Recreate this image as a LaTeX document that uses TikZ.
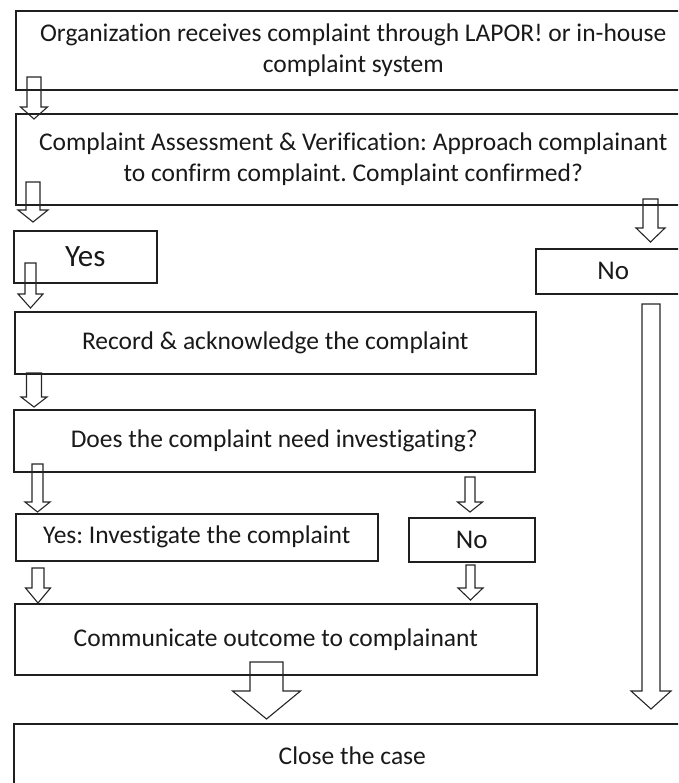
\documentclass[tikz,border=0pt]{standalone}
\usepackage{fontspec}
\setmainfont{Carlito}[Ligatures={NoCommon,NoContextual}]

% Hollow block arrow: centre x, shaft top, shoulder y, tip y, half shaft width, half head width
\newcommand\flowarrow[6]{%
  \draw[flow] (#1-#5,#2) -- (#1+#5,#2) -- (#1+#5,#3) -- (#1+#6,#3) -- (#1,#4)
    -- (#1-#6,#3) -- (#1-#5,#3) -- cycle;}

\begin{document}
\frenchspacing
\begin{tikzpicture}[x=1pt,y=-1pt,
  box/.style={draw=black!88, line width=1.6pt, anchor=north west, inner sep=0pt,
    align=center, font=\fontsize{25.5}{31}\selectfont, text=black!90},
  answer/.style={box, font=\fontsize{27}{31}\selectfont},
  flow/.style={draw=black!85, line width=1.1pt, line join=miter}]
\useasboundingbox (0,0) rectangle (678,783);
\clip (0,0) rectangle (678,783);

% process steps
\node[box, minimum width=675pt, minimum height=79pt] (receive) at (15,10)
  {Organization receives complaint through LAPOR! or in-house\\complaint system};
\node[box, minimum width=675pt, minimum height=91pt] (assess) at (15,113)
  {Complaint Assessment \& Verification: Approach complainant\\to confirm complaint. Complaint confirmed?};
\node[answer, minimum width=143pt, minimum height=52pt, font=\fontsize{31}{35}\selectfont] (yes1) at (13,230) {Yes};
\node[answer, minimum width=155pt, minimum height=45pt] (no1) at (535,248) {No};
\node[box, minimum width=521pt, minimum height=62pt] (record) at (14,311)
  {Record \& acknowledge the complaint};
\node[box, minimum width=521pt, minimum height=62pt] (needinv) at (13,409)
  {Does the complaint need investigating?};
\node[box, minimum width=362pt, minimum height=47pt] (investigate) at (15,513)
  {Yes: Investigate the complaint};
\node[answer, minimum width=126pt, minimum height=44pt] (no2) at (408,517) {No};
\node[box, minimum width=522pt, minimum height=71pt] (communicate) at (14,603)
  {Communicate outcome to complainant};
\node[box, minimum width=677pt, minimum height=64pt] (close) at (13,723)
  {Close the case};

% hollow arrows between the steps
\flowarrow{34}{77}{107}{119}{7}{13.5}
\flowarrow{33}{182}{210}{222}{7}{15}
\flowarrow{30.5}{263}{294}{308}{5.5}{12.5}
\flowarrow{34}{373}{397}{407}{7.5}{13}
\flowarrow{37.5}{464}{502}{512}{5.5}{12.5}
\flowarrow{470}{477}{502}{512}{5}{12.5}
\flowarrow{470.5}{565}{588}{600}{4.5}{12.5}
\flowarrow{38}{568}{588}{603}{6}{12.5}
\flowarrow{266.5}{662}{691}{719}{16.5}{34}
\flowarrow{650.5}{199}{228}{242}{7.5}{14.5}
\flowarrow{651}{304}{691}{709}{9}{20}
\end{tikzpicture}
\end{document}
